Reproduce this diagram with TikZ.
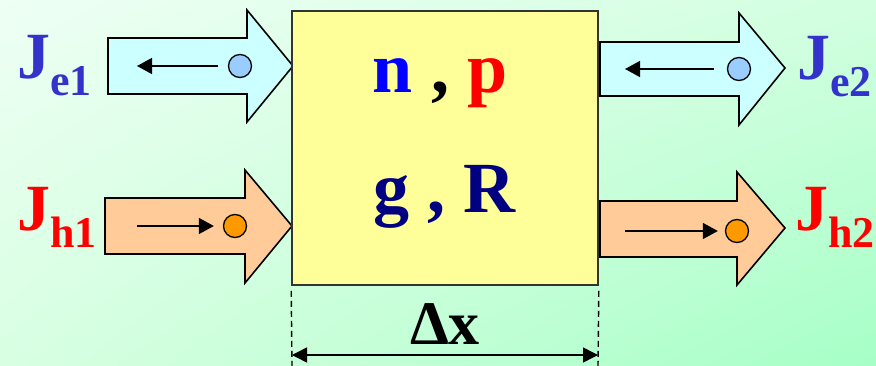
\documentclass[tikz,border=0pt]{standalone}
\usepackage{fontspec}
\setmainfont{Liberation Serif}
\usetikzlibrary{arrows.meta,shadings}

\definecolor{bgpale}{HTML}{EEFFF4}
\definecolor{bgtop}{HTML}{D2FFE0}
\definecolor{bgbot}{HTML}{D8FFE2}
\definecolor{bgdeep}{HTML}{A6FFC6}
\definecolor{efill}{HTML}{CCFFFF}
\definecolor{hfill}{HTML}{FFCC99}
\definecolor{edot}{HTML}{99CCFF}
\definecolor{hdot}{HTML}{FF9900}
\definecolor{cellfill}{HTML}{FFFF99}
\definecolor{eblue}{HTML}{3333CC}
\definecolor{navy}{HTML}{000080}

% current label J with a lowered index
\newcommand{\jcur}[1]{{\fontsize{66}{66}\selectfont J}\raisebox{-17pt}{\fontsize{44}{44}\selectfont #1}}

\begin{document}
\begin{tikzpicture}[x=1pt,y=-1pt,font=\bfseries,
  flux/.style={draw=black,line width=1.6pt,line join=miter},
  carrier/.style={circle,draw=black,line width=1.3pt,minimum size=23pt,inner sep=0pt},
  drift/.style={line width=1.5pt,-{Triangle[length=15pt,width=16pt]}},
  bigtext/.style={anchor=base,inner sep=0pt,font=\bfseries\fontsize{72}{72}\selectfont}]
  % background
  \shade[upper left=bgpale,upper right=bgtop,lower left=bgbot,lower right=bgdeep]
    (0,0) rectangle (876,366);
  \useasboundingbox (0,0) rectangle (876,366);
  % electron currents (upper row)
  \draw[flux,fill=efill] (108,38) -- (247,38) -- (247,10) -- (293,66) -- (247,122)
    -- (247,94) -- (108,94) -- cycle;
  \draw[flux,fill=efill] (600,42) -- (739,42) -- (739,13) -- (785,68) -- (739,125)
    -- (739,96) -- (600,96) -- cycle;
  % hole currents (lower row)
  \draw[flux,fill=hfill] (105,198) -- (245,198) -- (245,170) -- (292,226) -- (245,283)
    -- (245,254) -- (105,254) -- cycle;
  \draw[flux,fill=hfill] (600,201) -- (737,201) -- (737,172) -- (785,228) -- (737,285)
    -- (737,257) -- (600,257) -- cycle;
  % the slice
  \node[draw=black!80,line width=1.6pt,fill=cellfill,minimum width=306pt,
    minimum height=274pt,inner sep=0pt] (cell) at (445,148) {};
  \node[bigtext] (np) at (440,93)
    {\textcolor{blue}{n} , \textcolor{red}{p}};
  \node[bigtext,text=navy] (gR) at (444,213) {g , R};
  % carriers and their drift
  \node[carrier,fill=edot] (e1) at (240,66) {};
  \node[carrier,fill=edot] (e2) at (739,69) {};
  \node[carrier,fill=hdot] (h1) at (235,226) {};
  \node[carrier,fill=hdot] (h2) at (737,231) {};
  \coordinate (e1end) at (137,66);
  \coordinate (e2end) at (625,69);
  \coordinate (h1start) at (137,226);
  \coordinate (h2start) at (625,231);
  \draw[drift] ([xshift=-10pt]e1.west) -- (e1end);
  \draw[drift] ([xshift=-13pt]e2.west) -- (e2end);
  \draw[drift] (h1start) -- ([xshift=-9pt]h1.west);
  \draw[drift] (h2start) -- ([xshift=-7pt]h2.west);
  % current labels
  \node[anchor=base west,inner sep=0pt,text=eblue] (je1) at (17,79) {\jcur{e1}};
  \node[anchor=base west,inner sep=0pt,text=eblue] (je2) at (797,80) {\jcur{e2}};
  \node[anchor=base west,inner sep=0pt,text=red] (jh1) at (17,231) {\jcur{h1}};
  \node[anchor=base west,inner sep=0pt,text=red] (jh2) at (795,231) {\jcur{h2}};
  % width of the slice
  \coordinate (dl) at (292,355);
  \coordinate (dr) at (598,355);
  \draw[line width=1.4pt,dash pattern=on 6pt off 4pt] (cell.south west) ++(0,5) -- (292,366);
  \draw[line width=1.4pt,dash pattern=on 6pt off 4pt] (cell.south east) ++(0,5) -- (598,366);
  \draw[line width=1.5pt,{Triangle[length=15pt,width=15pt]}-{Triangle[length=15pt,width=15pt]}]
    (dl) -- (dr);
  \node[anchor=base,inner sep=0pt,font=\bfseries\fontsize{62}{62}\selectfont] (dx)
    at (445,344) {Δx};
\end{tikzpicture}
\end{document}
